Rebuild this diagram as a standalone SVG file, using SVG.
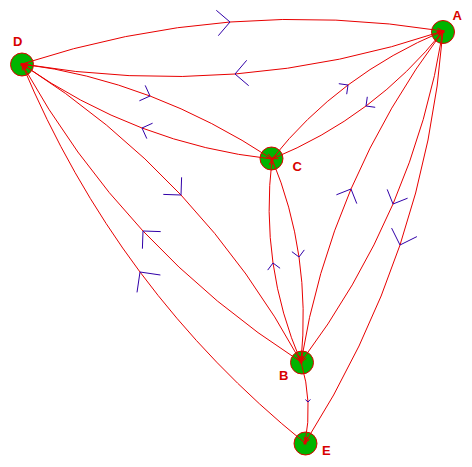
<svg xmlns="http://www.w3.org/2000/svg" width="472" height="467" viewBox="0 0 472 467">
  <style>
    .node { fill: #00b400; stroke: #e00000; stroke-width: 1; }
    .label { font-family: "Liberation Sans", Arial, sans-serif; font-weight: bold; font-size: 13px; fill: #d80000; }
    .edge { fill: none; stroke: #e80000; stroke-width: 1; marker-end: url(#head); }
    .chev { fill: none; stroke: #3000a8; stroke-width: 1; }
    .dot { fill: #e00000; }
  </style>
  <defs>
    <marker id="head" markerUnits="userSpaceOnUse" markerWidth="7" markerHeight="7" viewBox="0 0 7 7" refX="7" refY="3.5" orient="auto">
      <path d="M1,1.5 L7,3.5 L1,5.5" fill="none" stroke="#e80000" stroke-width="1"/>
    </marker>
  </defs>
  <rect width="472" height="467" fill="#ffffff"/>

  <g id="node-D">
    <circle class="node" cx="22" cy="64.5" r="11.5"/>
    <rect class="dot" x="20.5" y="63" width="3" height="3"/>
    <text class="label" x="13" y="46">D</text>
  </g>
  <g id="node-A">
    <circle class="node" cx="443" cy="32" r="11.5"/>
    <rect class="dot" x="441.5" y="30" width="3" height="3"/>
    <text class="label" x="452.5" y="19.5">A</text>
  </g>
  <g id="node-C">
    <circle class="node" cx="271.5" cy="158.5" r="11.5"/>
    <rect class="dot" x="270.5" y="157.5" width="3" height="3"/>
    <text class="label" x="292.5" y="170.5">C</text>
  </g>
  <g id="node-B">
    <circle class="node" cx="302" cy="362.5" r="11.5"/>
    <rect class="dot" x="299.5" y="360.5" width="3" height="3"/>
    <text class="label" x="279" y="379.5">B</text>
  </g>
  <g id="node-E">
    <circle class="node" cx="305.5" cy="443.5" r="11.5"/>
    <rect class="dot" x="303.5" y="441.5" width="3" height="3"/>
    <text class="label" x="322" y="454.5">E</text>
  </g>

  <g id="connectors">
    <!-- D -> A (upper arc) -->
    <path class="edge" d="M22,64 Q227.5,-3.5 443,31"/>
    <polyline class="chev" points="216.3,10.3 230,22 218.3,35.7"/>
    <!-- A -> D -->
    <path class="edge" d="M443,31 Q237.5,100.5 22,64"/>
    <polyline class="chev" points="248.7,85.7 235,74 246.7,60.3"/>
    <!-- D -> C -->
    <path class="edge" d="M22,64 Q153,80.5 272,159"/>
    <polyline class="chev" points="145.2,85.4 150,96 139.4,100.8"/>
    <!-- C -> D -->
    <path class="edge" d="M272,159 Q137,144.5 22,64"/>
    <polyline class="chev" points="146.8,138.6 142,128 152.6,123.2"/>
    <!-- D -> B -->
    <path class="edge" d="M22,64 Q200.5,177 301,362"/>
    <polyline class="chev" points="181.6,177.3 181,195 163.3,194.4"/>
    <!-- B -> D -->
    <path class="edge" d="M301,362 Q124.5,249 22,64"/>
    <polyline class="chev" points="142.4,248.7 143,231 160.7,231.6"/>
    <!-- E -> D -->
    <path class="edge" d="M305,443 Q116.5,290.5 22,64"/>
    <polyline class="chev" points="137,292.4 140,272 160.4,275"/>
    <!-- C -> A -->
    <path class="edge" d="M272,159 Q338.5,75 443,31"/>
    <polyline class="chev" points="338.8,83.7 348,85 346.7,94.2"/>
    <!-- A -> C -->
    <path class="edge" d="M443,31 Q374.5,117 272,159"/>
    <polyline class="chev" points="375.2,107.3 366,106 367.3,96.8"/>
    <!-- B -> C -->
    <path class="edge" d="M301,362 Q259.5,265.5 272,159"/>
    <polyline class="chev" points="267.7,270.1 273,263 280.1,268.3"/>
    <!-- C -> B -->
    <path class="edge" d="M272,159 Q311.5,253.5 301,362"/>
    <polyline class="chev" points="304.3,249.9 299,257 291.9,251.7"/>
    <!-- B -> A -->
    <path class="edge" d="M301,362 Q330,181.5 443,31"/>
    <polyline class="chev" points="336.4,194.8 351,189 356.8,203.6"/>
    <!-- A -> B -->
    <path class="edge" d="M443,31 Q414,211.5 301,362"/>
    <polyline class="chev" points="407.6,198.2 393,204 387.2,189.4"/>
    <!-- A -> E -->
    <path class="edge" d="M443,31 Q426,253 305,443"/>
    <polyline class="chev" points="416.9,236.6 400,245 391.6,228.1"/>
    <!-- B -> E -->
    <path class="edge" d="M301,362 Q313,401.5 305,443"/>
    <polyline class="chev" points="310.4,399.4 308,402 305.4,399.6"/>
  </g>
</svg>
